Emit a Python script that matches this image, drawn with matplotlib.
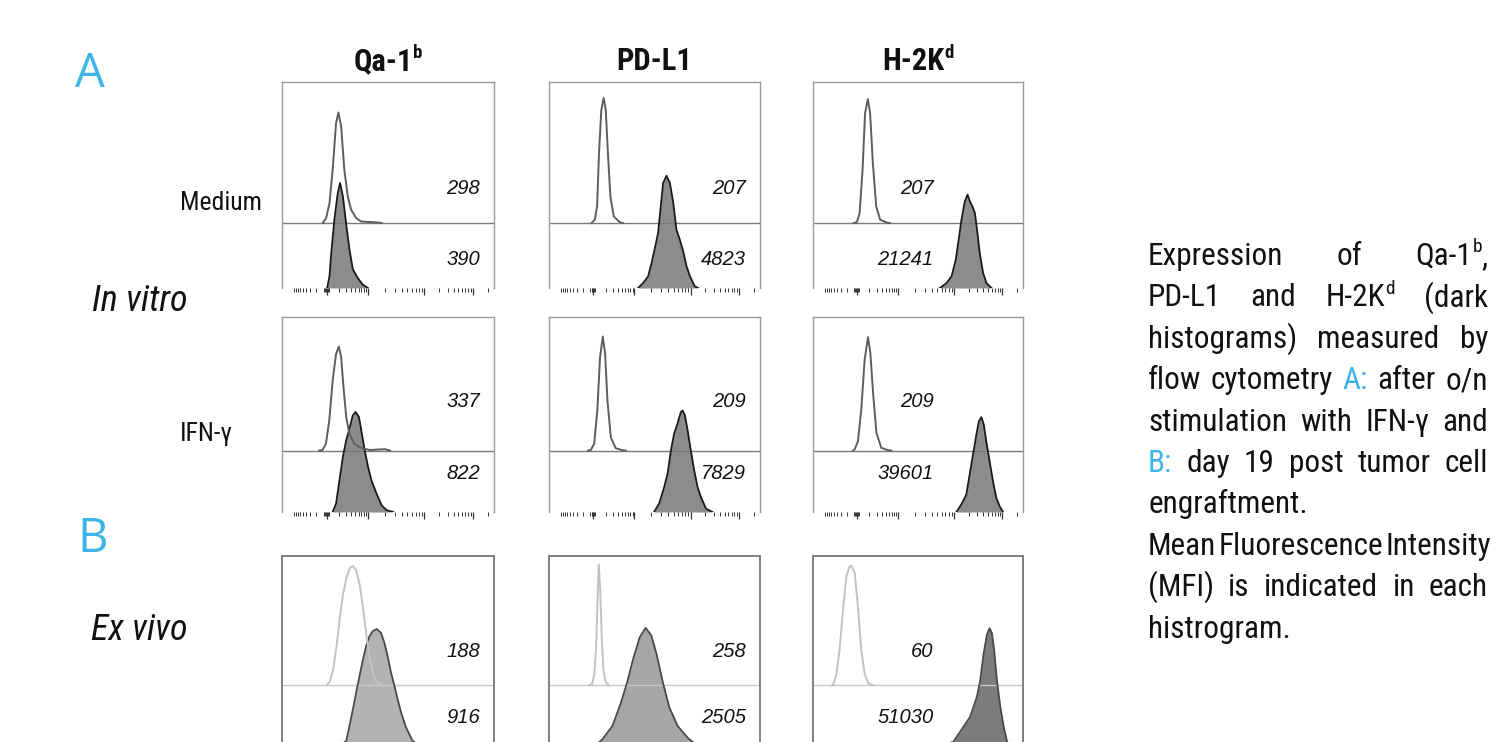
import os
import numpy as np
import matplotlib
matplotlib.use('Agg')
import matplotlib.pyplot as plt
from matplotlib import font_manager
from matplotlib.font_manager import FontProperties

W, H = 1506, 742

# ---- histogram traces (x: % of axis, y: % of axis height)
# in vitro, medium
QA_MED_CTRL_X = [19.2, 20.8, 22.4, 23.9, 25.5, 26.6, 27.9, 29.4, 31.0, 32.6, 35.0, 37.3, 45.2, 47.0]
QA_MED_CTRL_Y = [0, 2.4, 9.7, 25.9, 48.5, 53.7, 46.9, 25.9, 13.0, 6.5, 2.4, 0.8, 0.3, 0]
QA_MED_DARK_X = [21.3, 22.4, 23.1, 24.7, 26.3, 27.4, 28.7, 30.2, 31.8, 33.4, 35.7, 38.1, 40.5]
QA_MED_DARK_Y = [0, 5.7, 15.4, 33.2, 46.1, 51.0, 44.7, 31.7, 18.8, 9.1, 4.9, 1.6, 0]
PDL1_MED_CTRL_X = [20.1, 21.7, 22.8, 23.7, 24.8, 25.9, 26.9, 28.0, 29.1, 30.7, 33.5, 35.1]
PDL1_MED_CTRL_Y = [0, 1.6, 8.1, 34.0, 55.0, 60.7, 55.0, 32.4, 13.0, 3.2, 0.5, 0]
PDL1_MED_DARK_X = [42.2, 44.6, 47.0, 48.6, 50.2, 51.7, 52.8, 54.1, 55.7, 57.3, 58.9, 60.4,
                   62.0, 63.6, 65.2, 66.8, 69.1, 70.7]
PDL1_MED_DARK_Y = [0, 2.4, 5.7, 12.1, 19.4, 26.7, 38.0, 51.0, 54.5, 51.0, 41.3, 28.3,
                   23.5, 17.8, 10.5, 5.7, 0.8, 0]
H2K_MED_CTRL_X = [19.3, 20.9, 22.2, 23.6, 24.8, 26.1, 27.2, 28.5, 30.1, 32.0, 35.1, 36.7]
H2K_MED_CTRL_Y = [0, 0.5, 4.9, 25.9, 53.4, 60.2, 53.4, 29.1, 8.1, 1.6, 0.3, 0]
H2K_MED_DARK_X = [60.4, 63.6, 66.0, 68.0, 69.6, 70.7, 72.3, 73.6, 74.7, 75.9, 77.1, 78.3,
                  79.4, 81.0, 82.6, 85.0]
H2K_MED_DARK_Y = [0, 2.4, 5.7, 13.8, 25.1, 33.2, 42.1, 45.3, 42.1, 39.6, 36.4, 26.7,
                  17.0, 7.3, 2.4, 0]

# in vitro, IFN-gamma
QA_IFN_CTRL_X = [17.5, 19.1, 20.7, 22.3, 23.9, 25.5, 26.8, 27.9, 29.0, 30.3, 31.8, 34.2,
                 36.6, 39.0, 41.4, 48.6, 51.0]
QA_IFN_CTRL_Y = [0, 0.3, 3.4, 15.4, 35.9, 49.6, 53.3, 47.9, 32.5, 17.1, 8.5, 3.4,
                 1.7, 0.9, 0.3, 0.7, 0]
QA_IFN_DARK_X = [23.9, 25.5, 27.1, 28.7, 30.3, 31.8, 33.4, 34.7, 36.3, 37.4, 39.0, 40.6,
                 42.2, 44.6, 47.0, 49.4, 52.5]
QA_IFN_DARK_Y = [0, 4.3, 16.2, 28.2, 36.8, 42.7, 49.6, 51.3, 48.7, 41.9, 31.6, 23.1,
                 16.2, 9.4, 3.4, 0.9, 0]
PDL1_IFN_CTRL_X = [18.5, 19.8, 21.4, 22.9, 24.2, 25.5, 26.6, 27.7, 29.3, 31.6, 34.8, 36.4]
PDL1_IFN_CTRL_Y = [0, 0.3, 3.4, 20.5, 47.9, 58.5, 49.6, 25.6, 6.8, 1.2, 0.2, 0]
PDL1_IFN_DARK_X = [49.8, 52.2, 54.6, 56.2, 57.8, 59.3, 60.9, 62.5, 63.3, 64.4, 65.7, 67.2,
                   68.8, 70.4, 72.0, 74.4, 77.5]
PDL1_IFN_DARK_Y = [0, 4.3, 12.8, 19.7, 31.6, 40.2, 45.3, 51.3, 52.1, 49.6, 41.9, 31.6,
                   21.4, 12.8, 7.7, 1.7, 0]
H2K_IFN_CTRL_X = [19.0, 19.8, 21.4, 23.0, 24.6, 26.2, 27.3, 28.6, 30.2, 32.5, 35.7, 37.3]
H2K_IFN_CTRL_Y = [0, 0.5, 4.8, 21.1, 46.7, 58.2, 50.2, 29.6, 9.1, 1.4, 0.2, 0]
H2K_IFN_DARK_X = [68.3, 70.6, 73.0, 74.6, 76.2, 77.8, 79.0, 80.2, 81.3, 82.5, 84.1, 85.7,
                  87.3, 88.9, 90.5]
H2K_IFN_DARK_Y = [0, 3.8, 8.9, 19.2, 29.5, 39.7, 46.6, 48.6, 44.9, 36.3, 26.0, 15.8,
                  7.2, 2.9, 0]

# ex vivo
QA_VIVO_CTRL_X = [21.0, 22.6, 24.1, 25.7, 27.3, 28.8, 30.4, 31.9, 33.5, 35.0, 36.6, 38.2,
                  39.7, 41.3, 42.8, 44.4, 46.7, 49.1]
QA_VIVO_CTRL_Y = [0, 2.1, 8.2, 20.4, 36.1, 48.3, 57.1, 62.0, 63.2, 60.9, 53.6, 41.4,
                  27.4, 15.2, 6.5, 2.1, 0.3, 0]
QA_VIVO_DARK_X = [28.0, 30.4, 31.9, 33.5, 35.0, 36.6, 38.2, 39.7, 41.3, 42.8, 44.7, 46.7,
                  48.3, 49.8, 51.4, 53.0, 54.5, 56.1, 58.4, 61.5, 63.9]
QA_VIVO_DARK_Y = [0, 2.4, 10.5, 19.2, 27.9, 36.6, 45.4, 52.4, 57.6, 60.2, 61.4, 59.3,
                  54.1, 47.1, 38.4, 31.4, 24.4, 17.5, 9.6, 2.4, 0]
PDL1_VIVO_CTRL_X = [19.0, 20.5, 21.5, 22.3, 23.0, 23.6, 24.3, 25.0, 25.8, 26.8, 28.5]
PDL1_VIVO_CTRL_Y = [0, 1, 6, 20, 45, 64, 50, 25, 8, 2, 0]
PDL1_VIVO_DARK_X = [22, 25, 30, 34, 37, 40, 43, 45.8, 48.5, 51, 54, 57, 61, 66, 70]
PDL1_VIVO_DARK_Y = [0, 2.6, 10, 22, 33, 46, 57, 62, 58, 48, 33, 20, 10, 3.5, 0]
H2K_VIVO_CTRL_X = [8.8, 9.6, 11.1, 12.7, 14.3, 15.9, 17.2, 18.3, 19.9, 21.5, 23.1, 24.7,
                   26.3, 28.7]
H2K_VIVO_CTRL_Y = [0, 0.3, 5.6, 19.4, 40.3, 57.6, 62.5, 63.4, 59.4, 40.3, 17.7, 5.6,
                   1.2, 0]
H2K_VIVO_DARK_X = [60.5, 63.7, 66.9, 68.5, 71.7, 74.8, 76.4, 78.0, 79.6, 81.2, 82.8, 84.1,
                   85.2, 86.3, 87.6, 89.2, 90.8, 92.4, 94.0]
H2K_VIVO_DARK_Y = [0, 0.7, 1.7, 4.5, 9.7, 14.9, 20.1, 25.3, 34.0, 47.9, 58.3, 61.8,
                   59.2, 49.7, 34.0, 20.1, 9.7, 1.7, 0]

# mean fluorescence intensities (control / stained), rows x markers
MFI_CTRL = [[298, 207, 207], [337, 209, 209], [188, 258, 60]]
MFI_DARK = [[390, 4823, 21241], [822, 7829, 39601], [916, 2505, 51030]]

# marker name + superscript
MARKERS = [('Qa-1', 'b'), ('PD-L1', ''), ('H-2K', 'd')]
CONDITIONS = ['Medium', 'IFN-γ']

CTRL = [[(QA_MED_CTRL_X, QA_MED_CTRL_Y), (PDL1_MED_CTRL_X, PDL1_MED_CTRL_Y), (H2K_MED_CTRL_X, H2K_MED_CTRL_Y)],
        [(QA_IFN_CTRL_X, QA_IFN_CTRL_Y), (PDL1_IFN_CTRL_X, PDL1_IFN_CTRL_Y), (H2K_IFN_CTRL_X, H2K_IFN_CTRL_Y)],
        [(QA_VIVO_CTRL_X, QA_VIVO_CTRL_Y), (PDL1_VIVO_CTRL_X, PDL1_VIVO_CTRL_Y), (H2K_VIVO_CTRL_X, H2K_VIVO_CTRL_Y)]]
DARK = [[(QA_MED_DARK_X, QA_MED_DARK_Y), (PDL1_MED_DARK_X, PDL1_MED_DARK_Y), (H2K_MED_DARK_X, H2K_MED_DARK_Y)],
        [(QA_IFN_DARK_X, QA_IFN_DARK_Y), (PDL1_IFN_DARK_X, PDL1_IFN_DARK_Y), (H2K_IFN_DARK_X, H2K_IFN_DARK_Y)],
        [(QA_VIVO_DARK_X, QA_VIVO_DARK_Y), (PDL1_VIVO_DARK_X, PDL1_VIVO_DARK_Y), (H2K_VIVO_DARK_X, H2K_VIVO_DARK_Y)]]

# ---- look for a narrow / condensed sans face (the figure uses Arial Narrow)
FAM_RANK = ['Liberation Sans Narrow', 'Arial Narrow', 'Roboto Condensed', 'Noto Sans',
            'DejaVu Sans', 'Open Sans', 'Roboto', 'Lato', 'Inter']
STRETCH_RANK = {'condensed': 0, 'semi-condensed': 1, 'extra-condensed': 2, 'ultra-condensed': 3}


def _weight(f):
    if isinstance(f.weight, (int, float)):
        return f.weight
    return font_manager.weight_dict.get(f.weight, 400)


def _is_cond(f):
    fn = os.path.basename(f.fname).lower()
    nm = f.name.lower()
    return (f.stretch in STRETCH_RANK or 'narrow' in fn or 'cond' in fn
            or 'narrow' in nm or 'condensed' in nm)


def pick_font(italic, bold):
    best, best_key = None, None
    for f in font_manager.fontManager.ttflist:
        if not _is_cond(f):
            continue
        w = _weight(f)
        if bold and not (600 <= w <= 750):
            continue
        if not bold and not (350 <= w < 500):
            continue
        if (f.style != 'normal') != italic:
            continue
        fr = next((n for n, fam in enumerate(FAM_RANK) if f.name.startswith(fam)), 50)
        fn = os.path.basename(f.fname).lower()
        sr = STRETCH_RANK.get(f.stretch, 1 if 'semi' in fn else (2 if 'extra' in fn else 0))
        key = (fr, sr, abs(w - (700 if bold else 400)))
        if best_key is None or key < best_key:
            best, best_key = f.fname, key
    return best


FONT_REG = pick_font(False, False)
FONT_BOLD = pick_font(False, True)
FONT_IT = pick_font(True, False)


def fp(kind, size):
    path = {'reg': FONT_REG, 'bold': FONT_BOLD, 'it': FONT_IT}[kind]
    if path:
        return FontProperties(fname=path, size=size)
    return FontProperties(family='Liberation Sans', size=size * 0.85,
                          weight='bold' if kind == 'bold' else 'normal',
                          style='italic' if kind == 'it' else 'normal')


BLUE = '#3db4e6'
K = '#111111'

fig = plt.figure(figsize=(W / 100, H / 100), dpi=100)
renderer = fig.canvas.get_renderer()


def px_rect(l, t, r, b):
    return [l / W, 1 - b / H, (r - l) / W, (b - t) / H]


def make_parts(parts, kind, size):
    """parts: list of (text, colour, is_superscript). Returns text objects with widths."""
    out = []
    for s, c, sup in parts:
        t = fig.text(0, 0, s, color=c, fontproperties=fp(kind, size * 0.62 if sup else size),
                     ha='left', va='baseline')
        out.append((t, t.get_window_extent(renderer).width, sup))
    return out


def place_parts(objs, x, yb, size):
    for t, w, sup in objs:
        lift = size * 100 / 72 * 0.40 if sup else 0
        t.set_position((x / W, 1 - (yb - lift) / H))
        x += w
    return x


col_px = [(282, 494), (549, 760), (813, 1023)]
row_px = [(82, 288), (317, 512), (556, 745)]
BASE = 31.5

# flow-style biexponential tick marks
major_t = [21.0, 40.5, 67.2, 90.1]
k = np.arange(2, 10)
minor_t = np.concatenate([21 - np.log10(k) * 16, [19.6, 20.2, 20.6, 21.5, 22.0],
                          21 + np.log10(k) * 19.5, 40.5 + np.log10(k) * 26.7,
                          67.2 + np.log10(k) * 22.9, [97.0]])

lbl_y = [(48.5, 14.0), (56.5, 19.7), (49.5, 14.5)]
lbl_x = [93.5, 93.5, 57.5]

for i, (t, b) in enumerate(row_px):
    for j, (l, r) in enumerate(col_px):
        ax = fig.add_axes(px_rect(l, t, r, b))
        ax.set_xlim(0, 100)
        ax.set_ylim(0, 100)
        ax.set_yticks([])
        if i < 2:
            fill_c, edge_c, open_c, base_c, spine_c = '#8c8c8c', '#1a1a1a', '#5e5e5e', '#7a7a7a', '#9a9a9a'
        else:
            fill_c = ['#b3b3b3', '#a6a6a6', '#7c7c7c'][j]
            edge_c, open_c, base_c, spine_c = '#4a4a4a', '#c2c2c2', '#c8c8c8', '#808080'
        dx, dy = DARK[i][j]
        cx, cy = CTRL[i][j]
        ax.fill_between(dx, 0, dy, color=fill_c, lw=0, zorder=1)
        ax.plot(dx, dy, color=edge_c, lw=1.3, zorder=3)
        ax.axhline(BASE, color=base_c, lw=1.0, zorder=2)
        ax.plot(cx, BASE + np.array(cy), color=open_c, lw=1.4, zorder=4)

        for s in ['left', 'right', 'top']:
            ax.spines[s].set_color(spine_c)
            ax.spines[s].set_linewidth(1.0 if i < 2 else 1.4)
        ax.spines['bottom'].set_visible(False)
        if i < 2:
            ax.set_xticks(major_t)
            ax.set_xticks(minor_t, minor=True)
            ax.tick_params(axis='x', which='major', direction='out', length=5, width=0.9,
                           color='#333333', labelbottom=False)
            ax.tick_params(axis='x', which='minor', direction='out', length=3, width=0.7,
                           color='#333333')
        else:
            ax.set_xticks([])

        ax.text(lbl_x[j], lbl_y[i][0], str(MFI_CTRL[i][j]), ha='right', va='center',
                style='italic', fontsize=14.5, family='Liberation Sans', color=K)
        ax.text(lbl_x[j], lbl_y[i][1], str(MFI_DARK[i][j]), ha='right', va='center',
                style='italic', fontsize=14.5, family='Liberation Sans', color=K)

# column headers
HEAD_FS = 22
for j, (l, r) in enumerate(col_px):
    name, sup = MARKERS[j]
    parts = [(name, K, False)] + ([(sup, K, True)] if sup else [])
    objs = make_parts(parts, 'bold', HEAD_FS)
    total = sum(w for _, w, _ in objs)
    place_parts(objs, (l + r) / 2 - total / 2, 70, HEAD_FS)

# row labels
fig.text(75 / W, 1 - 87 / H, 'A', fontsize=34, family='Open Sans', color=BLUE, va='baseline')
fig.text(77 / W, 1 - 552 / H, 'B', fontsize=34, family='Open Sans', color=BLUE, va='baseline')
fig.text(92 / W, 1 - 311 / H, 'In vitro', fontproperties=fp('it', 26), va='baseline', color=K)
fig.text(91 / W, 1 - 640 / H, 'Ex vivo', fontproperties=fp('it', 26), va='baseline', color=K)
fig.text(180 / W, 1 - 210 / H, CONDITIONS[0], fontproperties=fp('reg', 18.5), va='baseline', color=K)
fig.text(180 / W, 1 - 441 / H, CONDITIONS[1], fontproperties=fp('reg', 18.5), va='baseline', color=K)

# justified caption on the right
DESC_FS = 22.5
TXT_L, TXT_R = 1148, 1488
caption = [
    ([[('Expression', K, False)], [('of', K, False)],
      [('Qa-1', K, False), ('b', K, True), (',', K, False)]], True),
    ([[('PD-L1', K, False)], [('and', K, False)], [('H-2K', K, False), ('d', K, True)],
      [('(dark', K, False)]], True),
    ([[('histograms)', K, False)], [('measured', K, False)], [('by', K, False)]], True),
    ([[('flow', K, False)], [('cytometry', K, False)], [('A:', BLUE, False)],
      [('after', K, False)], [('o/n', K, False)]], True),
    ([[('stimulation', K, False)], [('with', K, False)], [('IFN-γ', K, False)],
      [('and', K, False)]], True),
    ([[('B:', BLUE, False)], [('day', K, False)], [('19', K, False)], [('post', K, False)],
      [('tumor', K, False)], [('cell', K, False)]], True),
    ([[('engraftment.', K, False)]], False),
    ([[('Mean', K, False)], [('Fluorescence', K, False)], [('Intensity', K, False)]], True),
    ([[('(MFI)', K, False)], [('is', K, False)], [('indicated', K, False)], [('in', K, False)],
      [('each', K, False)]], True),
    ([[('histrogram.', K, False)]], False),
]


def text_width(s):
    t = fig.text(0, 0, s, fontproperties=fp('reg', DESC_FS))
    w = t.get_window_extent(renderer).width
    t.remove()
    return w


space_w = text_width('a a') - text_width('aa')
for n, (words, justify) in enumerate(caption):
    yb = 265 + n * 41.4
    built = [make_parts(p, 'reg', DESC_FS) for p in words]
    widths = [sum(w for _, w, _ in objs) for objs in built]
    if justify and len(built) > 1:
        gap = max((TXT_R - TXT_L - sum(widths)) / (len(built) - 1), 0.35 * space_w)
    else:
        gap = space_w
    x = TXT_L
    for objs in built:
        x = place_parts(objs, x, yb, DESC_FS) + gap

fig.savefig('out.png', dpi=100)
